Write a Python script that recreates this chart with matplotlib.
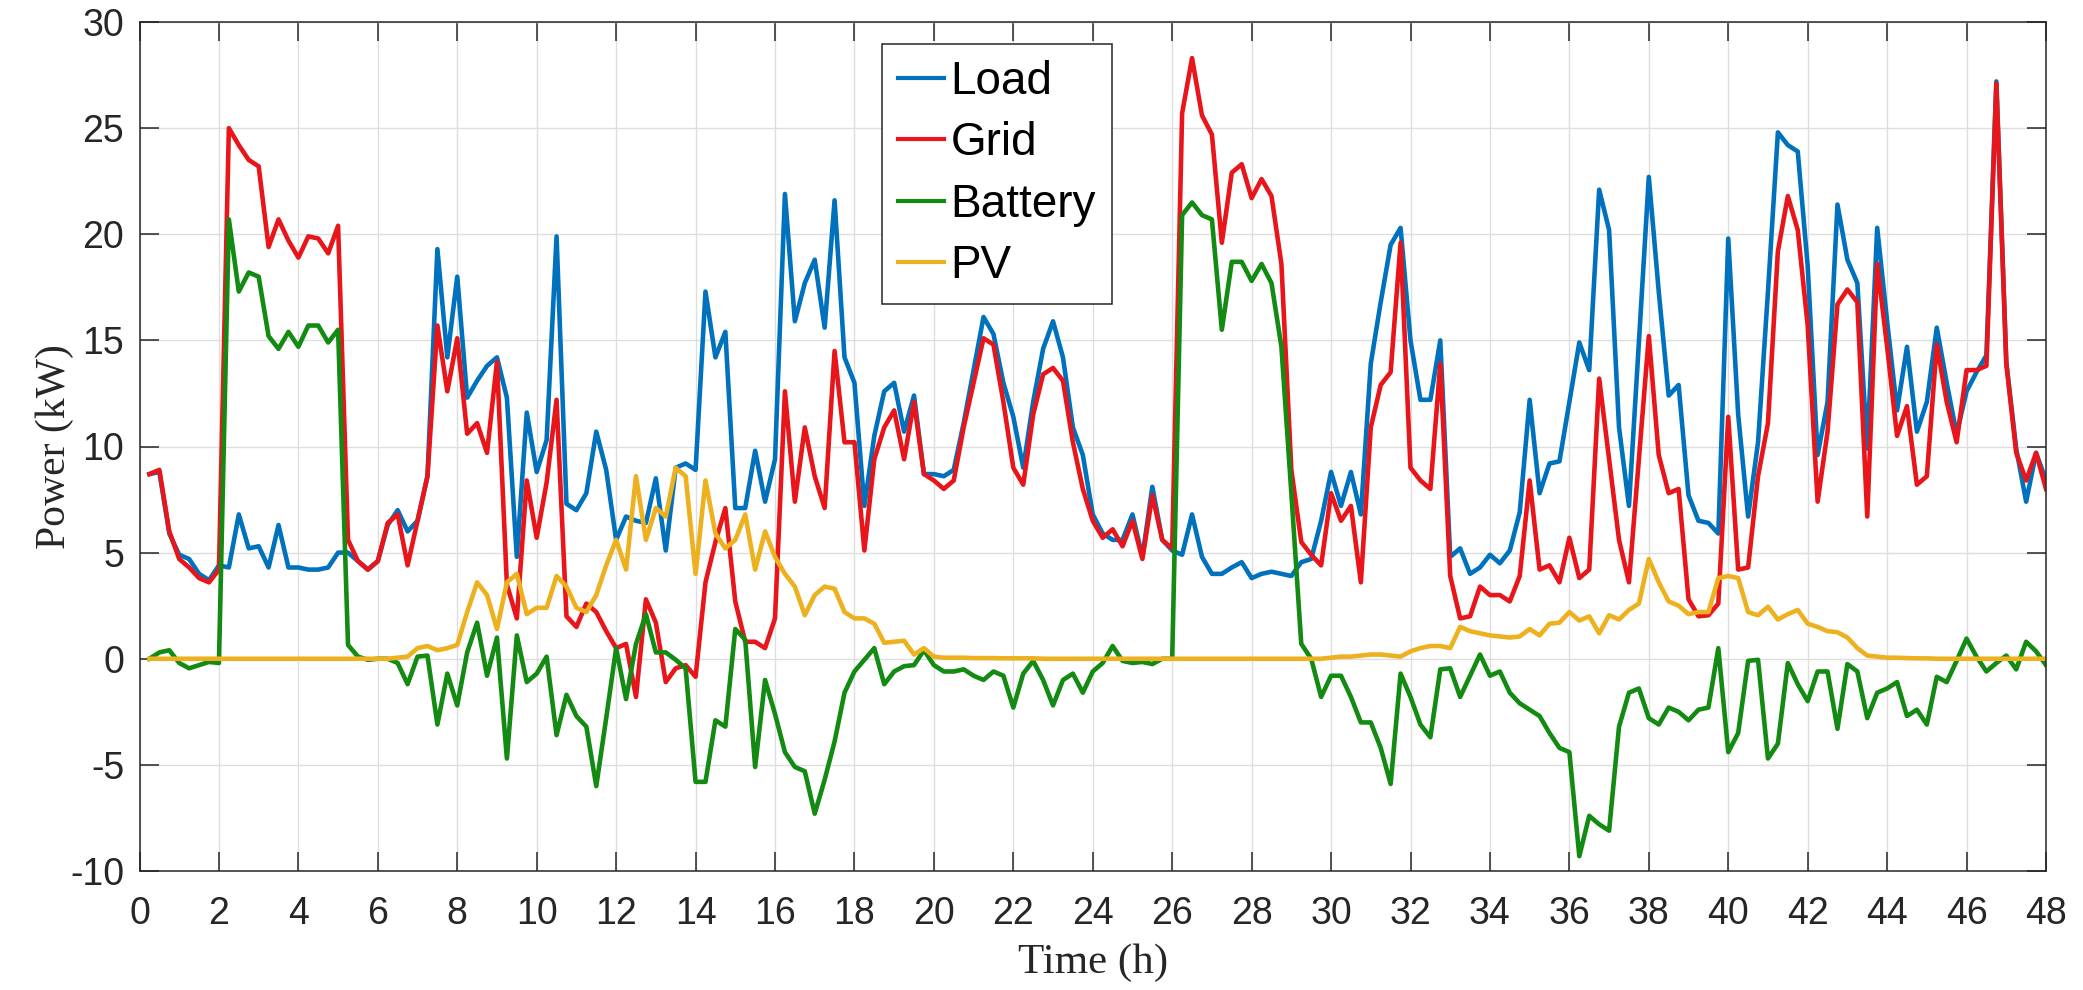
import matplotlib
matplotlib.use("Agg")
import matplotlib.pyplot as plt
import numpy as np

plt.rcParams["axes.unicode_minus"] = False

# time axis: 15-min steps from 0.25 h to 48 h
time_h = np.arange(1, 193) * 0.25

load_kw = [
    8.7, 8.8, 5.9, 4.9, 4.7, 4.0, 3.7, 4.4,
    4.3, 6.8, 5.2, 5.3, 4.3, 6.3, 4.3, 4.3,
    4.2, 4.2, 4.3, 5.0, 5.0, 4.6, 4.2, 4.6,
    6.3, 7.0, 6.0, 6.5, 8.6, 19.3, 14.2, 18.0,
    12.3, 13.1, 13.8, 14.2, 12.3, 4.8, 11.6, 8.8,
    10.3, 19.9, 7.3, 7.0, 7.8, 10.7, 8.9, 5.6,
    6.7, 6.5, 6.4, 8.5, 5.1, 9.0, 9.2, 8.9,
    17.3, 14.2, 15.4, 7.1, 7.1, 9.8, 7.4, 9.4,
    21.9, 15.9, 17.7, 18.8, 15.6, 21.6, 14.2, 13.0,
    7.2, 10.5, 12.6, 13.0, 10.7, 12.4, 8.7, 8.7,
    8.6, 8.9, 11.1, 13.6, 16.1, 15.3, 13.0, 11.4,
    9.0, 12.1, 14.6, 15.9, 14.2, 10.9, 9.6, 6.8,
    5.9, 5.6, 5.6, 6.8, 4.8, 8.1, 5.6, 5.1,
    4.9, 6.8, 4.8, 4.0, 4.0, 4.3, 4.55, 3.8,
    4.0, 4.1, 4.0, 3.9, 4.55, 4.7, 6.5, 8.8,
    7.2, 8.8, 6.8, 13.9, 16.8, 19.5, 20.3, 15.0,
    12.2, 12.2, 15.0, 4.8, 5.2, 4.0, 4.3, 4.9,
    4.5, 5.1, 6.9, 12.2, 7.8, 9.2, 9.3, 12.1,
    14.9, 13.6, 22.1, 20.2, 10.9, 7.2, 14.9, 22.7,
    17.3, 12.4, 12.9, 7.7, 6.5, 6.4, 5.9, 19.8,
    11.5, 6.7, 10.2, 17.3, 24.8, 24.2, 23.9, 18.5,
    9.6, 12.1, 21.4, 18.8, 17.7, 9.9, 20.3, 15.9,
    11.7, 14.7, 10.7, 12.1, 15.6, 13.0, 10.6, 12.6,
    13.5, 14.3, 27.2, 14.0, 9.9, 7.4, 9.7, 8.4,
]

grid_kw = [
    8.7, 8.9, 6.0, 4.7, 4.3, 3.8, 3.6, 4.2,
    25.0, 24.2, 23.5, 23.2, 19.4, 20.7, 19.7, 18.9,
    19.9, 19.8, 19.1, 20.4, 5.6, 4.6, 4.2, 4.6,
    6.4, 6.8, 4.4, 6.5, 8.6, 15.7, 12.6, 15.1,
    10.6, 11.1, 9.7, 14.0, 3.5, 1.9, 8.4, 5.7,
    8.3, 12.2, 2.0, 1.5, 2.6, 2.2, 1.3, 0.5,
    0.7, -1.8, 2.8, 1.7, -1.1, -0.45, -0.3, -0.85,
    3.6, 5.5, 7.1, 2.7, 0.8, 0.8, 0.5, 1.9,
    12.6, 7.4, 10.9, 8.6, 7.1, 14.5, 10.2, 10.2,
    5.1, 9.4, 10.9, 11.7, 9.4, 12.1, 8.7, 8.4,
    8.0, 8.4, 10.9, 13.0, 15.1, 14.8, 12.1, 9.0,
    8.2, 11.5, 13.4, 13.7, 13.1, 10.2, 8.0, 6.5,
    5.7, 6.1, 5.3, 6.5, 4.7, 7.7, 5.6, 5.2,
    25.7, 28.3, 25.6, 24.7, 19.6, 22.9, 23.3, 21.7,
    22.6, 21.8, 18.6, 8.9, 5.5, 4.9, 4.4, 7.8,
    6.5, 7.2, 3.6, 10.9, 12.9, 13.5, 19.6, 9.0,
    8.4, 8.0, 13.9, 3.9, 1.9, 2.0, 3.4, 3.0,
    3.0, 2.7, 3.9, 8.4, 4.2, 4.4, 3.6, 5.7,
    3.8, 4.2, 13.2, 9.4, 5.6, 3.6, 9.4, 15.2,
    9.6, 7.8, 8.0, 2.8, 2.0, 2.05, 2.6, 11.4,
    4.2, 4.3, 8.6, 11.1, 19.2, 21.8, 20.2, 15.7,
    7.4, 10.7, 16.7, 17.4, 16.8, 6.7, 18.6, 14.7,
    10.5, 11.9, 8.2, 8.6, 14.8, 12.1, 10.2, 13.6,
    13.6, 13.8, 27.1, 13.9, 9.7, 8.4, 9.7, 8.0,
]

battery_kw = [
    0.0, 0.3, 0.4, -0.2, -0.45, -0.3, -0.15, -0.2,
    20.7, 17.3, 18.2, 18.0, 15.2, 14.6, 15.4, 14.7,
    15.7, 15.7, 14.9, 15.5, 0.65, 0.1, -0.05, 0.0,
    0.0, -0.2, -1.2, 0.1, 0.15, -3.1, -0.7, -2.2,
    0.3, 1.7, -0.8, 1.0, -4.7, 1.1, -1.1, -0.7,
    0.1, -3.6, -1.7, -2.7, -3.2, -6.0, -2.8, 0.5,
    -1.9, 0.7, 2.1, 0.3, 0.3, -0.05, -0.45, -5.8,
    -5.8, -2.9, -3.2, 1.4, 0.9, -5.1, -1.0, -2.6,
    -4.4, -5.1, -5.3, -7.3, -5.7, -3.9, -1.6, -0.6,
    -0.05, 0.5, -1.2, -0.6, -0.35, -0.3, 0.4, -0.3,
    -0.6, -0.6, -0.5, -0.8, -1.0, -0.6, -0.8, -2.3,
    -0.7, -0.1, -1.0, -2.2, -1.0, -0.7, -1.6, -0.6,
    -0.2, 0.6, -0.1, -0.2, -0.15, -0.25, 0.0, 0.0,
    20.9, 21.5, 20.9, 20.7, 15.5, 18.7, 18.7, 17.8,
    18.6, 17.7, 14.7, 7.8, 0.7, 0.0, -1.8, -0.8,
    -0.8, -1.8, -3.0, -3.0, -4.2, -5.9, -0.7, -1.8,
    -3.1, -3.7, -0.5, -0.45, -1.8, -0.8, 0.2, -0.8,
    -0.6, -1.6, -2.1, -2.4, -2.7, -3.5, -4.2, -4.4,
    -9.3, -7.4, -7.8, -8.1, -3.2, -1.6, -1.4, -2.8,
    -3.1, -2.3, -2.5, -2.9, -2.4, -2.3, 0.5, -4.4,
    -3.5, -0.1, -0.05, -4.7, -4.0, -0.2, -1.2, -2.0,
    -0.6, -0.6, -3.3, -0.25, -0.6, -2.8, -1.6, -1.4,
    -1.1, -2.7, -2.4, -3.1, -0.85, -1.1, -0.1, 0.95,
    0.1, -0.6, -0.2, 0.15, -0.5, 0.8, 0.35, -0.3,
]

pv_kw = [
    0.0, 0.0, 0.0, 0.0, 0.0, 0.0, 0.0, 0.0,
    0.0, 0.0, 0.0, 0.0, 0.0, 0.0, 0.0, 0.0,
    0.0, 0.0, 0.0, 0.0, 0.0, 0.0, 0.0, 0.0,
    0.0, 0.05, 0.1, 0.5, 0.6, 0.4, 0.5, 0.65,
    2.2, 3.6, 3.0, 1.4, 3.6, 4.0, 2.1, 2.4,
    2.4, 3.9, 3.4, 2.4, 2.2, 3.0, 4.4, 5.6,
    4.2, 8.6, 5.6, 7.1, 6.7, 9.0, 8.6, 4.0,
    8.4, 5.9, 5.2, 5.6, 6.8, 4.2, 6.0, 4.8,
    4.0, 3.4, 2.05, 3.0, 3.4, 3.3, 2.2, 1.9,
    1.9, 1.65, 0.75, 0.8, 0.85, 0.2, 0.5, 0.1,
    0.05, 0.05, 0.05, 0.03, 0.03, 0.03, 0.02, 0.02,
    0.02, 0.02, 0.0, 0.0, 0.0, 0.0, 0.0, 0.0,
    0.0, 0.0, 0.0, 0.0, 0.0, 0.0, 0.0, 0.0,
    0.0, 0.0, 0.0, 0.0, 0.0, 0.0, 0.0, 0.0,
    0.0, 0.0, 0.0, 0.0, 0.0, 0.0, 0.0, 0.05,
    0.1, 0.1, 0.15, 0.2, 0.2, 0.15, 0.1, 0.35,
    0.5, 0.6, 0.6, 0.5, 1.5, 1.3, 1.2, 1.1,
    1.05, 1.0, 1.05, 1.4, 1.1, 1.65, 1.7, 2.2,
    1.8, 2.0, 1.2, 2.05, 1.85, 2.3, 2.6, 4.7,
    3.6, 2.7, 2.5, 2.1, 2.2, 2.2, 3.8, 3.9,
    3.8, 2.2, 2.05, 2.45, 1.85, 2.1, 2.3, 1.65,
    1.5, 1.3, 1.25, 1.0, 0.5, 0.15, 0.1, 0.05,
    0.05, 0.03, 0.02, 0.02, 0.0, 0.0, 0.0, 0.0,
    0.0, 0.0, 0.0, 0.0, 0.0, 0.0, 0.0, 0.0,
]

series_names = ["Load", "Grid", "Battery", "PV"]
series_colors = ["#0072BD", "#E8161B", "#138A12", "#EDB120"]

x_ticks = list(range(0, 49, 2))
y_ticks = list(range(-10, 31, 5))

W, H = 2083, 990
fig = plt.figure(figsize=(W / 100, H / 100), dpi=100)
ax_l, ax_r, ax_t, ax_b = 139.5, 2046.0, 22.0, 871.0
ax = fig.add_axes([ax_l / W, 1 - ax_b / H, (ax_r - ax_l) / W, (ax_b - ax_t) / H])

for name, vals, col in zip(series_names, [load_kw, grid_kw, battery_kw, pv_kw], series_colors):
    ax.plot(time_h, vals, color=col, lw=3.3, label=name)

ax.set_xlim(0, 48)
ax.set_ylim(-10, 30)
ax.set_xticks(x_ticks)
ax.set_yticks(y_ticks)
ax.grid(True, color="#dedede", lw=1.0)
ax.set_axisbelow(True)
ax.tick_params(direction="in", length=13.5, width=1.1, top=True, right=True,
               labelsize=27, colors="#262626")
ax.tick_params(axis="x", pad=18)
ax.tick_params(axis="y", pad=11)
for lbl in ax.get_xticklabels() + ax.get_yticklabels():
    lbl.set_fontfamily("Liberation Sans")
for sp in ax.spines.values():
    sp.set_color("#262626")
    sp.set_linewidth(1.1)

ax.set_xlabel("Time (h)", fontfamily="Liberation Serif", fontsize=31, labelpad=8, color="#262626")
ax.set_ylabel("Power (kW)", fontfamily="Liberation Serif", fontsize=30, labelpad=-3, color="#262626")

leg_x = (882 - ax_l) / (ax_r - ax_l)
leg_y = (ax_b - 44) / (ax_b - ax_t)
leg = ax.legend(loc="upper left", bbox_to_anchor=(leg_x, leg_y), frameon=True,
                fancybox=False, edgecolor="#262626", framealpha=1.0,
                prop={"family": "Liberation Sans", "size": 33},
                handlelength=1.0, handletextpad=0.15, labelspacing=0.38,
                borderpad=0.35, borderaxespad=0.0)
leg.get_frame().set_linewidth(1.1)
for h in leg.get_lines():
    h.set_linewidth(3.0)

fig.savefig("out.png", dpi=100)
